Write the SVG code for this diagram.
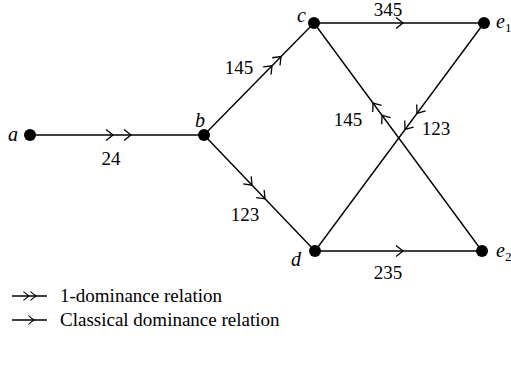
<svg xmlns="http://www.w3.org/2000/svg" width="511" height="368" viewBox="0 0 511 368">
<style>
.edge{stroke:#000;stroke-width:1.4;fill:none}
.chev{stroke:#000;stroke-width:1.3;fill:none}
.dot{fill:#000}
.lbl{font-family:"Liberation Serif",serif;font-size:19px;fill:#000}
.nl{font-family:"Liberation Serif",serif;font-size:20px;font-style:italic;fill:#000}
.sub{font-family:"Liberation Serif",serif;font-size:13px;fill:#000}
</style>
<defs>
<path id="ch" class="chev" d="M-7,-5.5 L0,0 L-7,5.5"/>
</defs>
<rect width="511" height="368" fill="#fff"/>
<g id="connectors">
<line class="edge" x1="30" y1="135" x2="204" y2="135"/>
<use href="#ch" transform="translate(113,135)"/>
<use href="#ch" transform="translate(131,135)"/>
<line class="edge" x1="204" y1="135" x2="314" y2="23"/>
<use href="#ch" transform="translate(272,65.8) rotate(-45.5)"/>
<use href="#ch" transform="translate(281,56.6) rotate(-45.5)"/>
<line class="edge" x1="204" y1="135" x2="315" y2="251"/>
<use href="#ch" transform="translate(252,185.2) rotate(46.3)"/>
<use href="#ch" transform="translate(265,198.8) rotate(46.3)"/>
<line class="edge" x1="314" y1="23" x2="484" y2="23"/>
<use href="#ch" transform="translate(403,23)"/>
<line class="edge" x1="315" y1="251" x2="482" y2="251"/>
<use href="#ch" transform="translate(403,251)"/>
<line class="edge" x1="314" y1="23" x2="482" y2="251"/>
<use href="#ch" transform="translate(373,103) rotate(-126.4)"/>
<use href="#ch" transform="translate(382,115.3) rotate(-126.4)"/>
<line class="edge" x1="484" y1="23" x2="315" y2="251"/>
<use href="#ch" transform="translate(417,113.3) rotate(126.5)"/>
<use href="#ch" transform="translate(405,129.5) rotate(126.5)"/>
<text class="lbl" x="111" y="165" text-anchor="middle">24</text>
<text class="lbl" x="239" y="74" text-anchor="middle">145</text>
<text class="lbl" x="245" y="221" text-anchor="middle">123</text>
<text class="lbl" x="388" y="16" text-anchor="middle">345</text>
<text class="lbl" x="348" y="126" text-anchor="middle">145</text>
<text class="lbl" x="436" y="135" text-anchor="middle">123</text>
<text class="lbl" x="388" y="279" text-anchor="middle">235</text>
</g>
<g id="node-a"><circle class="dot" cx="30" cy="135" r="6"/><text class="nl" x="8" y="141">a</text></g>
<g id="node-b"><circle class="dot" cx="204" cy="135" r="6"/><text class="nl" x="195" y="127">b</text></g>
<g id="node-c"><circle class="dot" cx="314" cy="23" r="6"/><text class="nl" x="297" y="22">c</text></g>
<g id="node-d"><circle class="dot" cx="315" cy="251" r="6"/><text class="nl" x="291" y="266">d</text></g>
<g id="node-e1"><circle class="dot" cx="484" cy="23" r="6"/><text class="nl" x="496" y="28">e</text><text class="sub" x="505" y="32">1</text></g>
<g id="node-e2"><circle class="dot" cx="482" cy="251" r="6"/><text class="nl" x="496" y="257">e</text><text class="sub" x="505" y="261">2</text></g>
<g id="legend">
<line class="edge" x1="12" y1="296" x2="47" y2="296"/>
<use href="#ch" transform="translate(29,296) scale(0.8)"/>
<use href="#ch" transform="translate(36,296) scale(0.8)"/>
<text class="lbl" x="60" y="302">1-dominance relation</text>
<line class="edge" x1="12" y1="320" x2="47" y2="320"/>
<use href="#ch" transform="translate(34,320) scale(0.8)"/>
<text class="lbl" x="60" y="326">Classical dominance relation</text>
</g>
</svg>
